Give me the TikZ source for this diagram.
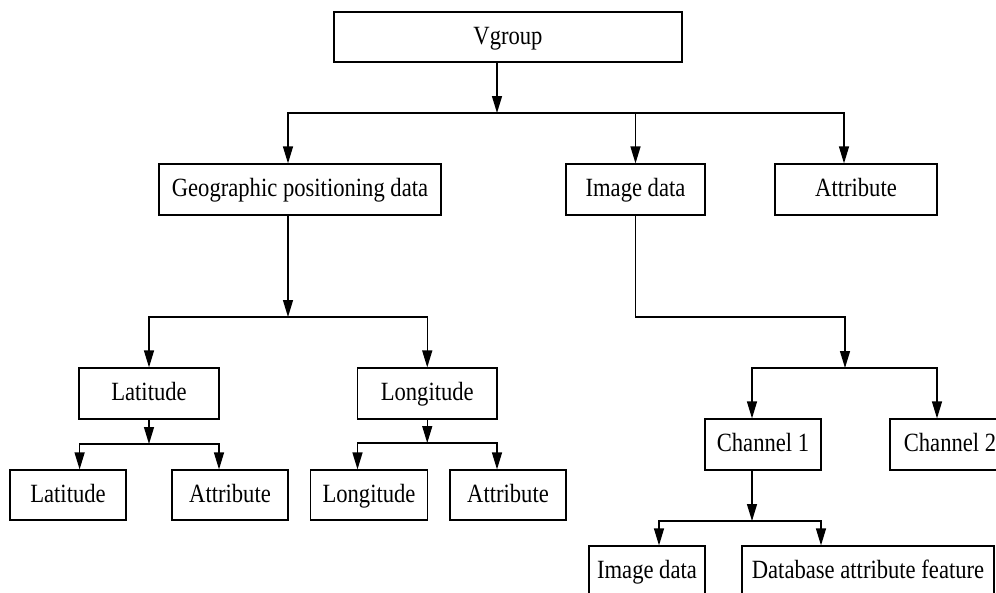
\documentclass[tikz,border=0pt]{standalone}
\usepackage{fontspec}
\setmainfont{Liberation Serif}[FakeStretch=0.86]
\usetikzlibrary{arrows.meta}
\begin{document}
\begin{tikzpicture}[x=1pt,y=-1pt,
  box/.style={draw,line width=1.2pt,inner sep=0pt,text height=18pt,text depth=3.6pt,font=\fontsize{26.3}{30}\selectfont},
  arr/.style={line width=1.3pt,-{Triangle[length=17pt,width=10pt]}},
  ln/.style={line width=1.3pt}]
\useasboundingbox (0,0) rectangle (996,592);
\clip (0,0) rectangle (996,592);
\fill[white] (0,0) rectangle (996,592);
% nodes
\node[box,minimum width=348pt,minimum height=50pt] (vg) at (508,37) {Vgroup};
\node[box,minimum width=282pt,minimum height=51pt] (geo) at (300,189.5) {Geographic positioning data};
\node[box,minimum width=139pt,minimum height=51pt] (img) at (635.5,189.5) {Image data};
\node[box,minimum width=162pt,minimum height=51pt] (attr) at (856,189.5) {Attribute};
\node[box,minimum width=140pt,minimum height=51pt] (lat) at (149,393.5) {Latitude};
\node[box,minimum width=139.5pt,minimum height=51pt] (lon) at (427.25,393.5) {Longitude};
\node[box,minimum width=116pt,minimum height=50pt] (lat2) at (68,495) {Latitude};
\node[box,minimum width=116pt,minimum height=50pt] (attr2) at (230,495) {Attribute};
\node[box,minimum width=116.5pt,minimum height=50pt] (lon2) at (369,495) {Longitude};
\node[box,minimum width=116pt,minimum height=50pt] (attr3) at (508,495) {Attribute};
\node[box,minimum width=116pt,minimum height=51pt] (ch1) at (763,444.5) {Channel 1};
\node[box,minimum width=120pt,minimum height=51pt] (ch2) at (950,444.5) {Channel 2};
\node[box,minimum width=116pt,minimum height=51pt] (img2) at (647,571.5) {Image data};
\node[box,minimum width=252pt,minimum height=51pt] (db) at (868,571.5) {Database attribute feature};
% junctions
\coordinate (b1) at (497,113);
\coordinate (b2) at (288,317);
\coordinate (b3) at (149,444);
\coordinate (b4) at (427.25,443);
\coordinate (k)  at (845,317);
\coordinate (b5) at (845,368);
\coordinate (b6) at (752,521);
% connectors
\draw[arr] (vg.south -| b1) -- (b1);
\draw[arr] (b1) -| ([xshift=-12pt]geo.north);
\draw[arr] (b1) -| (img.north);
\draw[arr] (b1) -| ([xshift=-12pt]attr.north);
\draw[arr] ([xshift=-12pt]geo.south) -- (b2);
\draw[arr] (b2) -| (lat.north);
\draw[arr] (b2) -| (lon.north);
\draw[arr] (lat.south) -- (b3);
\draw[arr] (b3) -| ([xshift=11.6pt]lat2.north);
\draw[arr] (b3) -| ([xshift=-11pt]attr2.north);
\draw[arr] (lon.south) -- (b4);
\draw[arr] (b4) -| ([xshift=-11.5pt]lon2.north);
\draw[arr] (b4) -| ([xshift=-11pt]attr3.north);
\draw[arr] (img.south) |- (k) -- (b5);
\draw[arr] (b5) -| ([xshift=-11pt]ch1.north);
\draw[arr] (b5) -| ([xshift=-13pt]ch2.north);
\draw[arr] ([xshift=-11pt]ch1.south) -- (b6);
\draw[arr] (b6) -| ([xshift=12pt]img2.north);
\draw[arr] (b6) -| ([xshift=-47pt]db.north);
\end{tikzpicture}
\end{document}
